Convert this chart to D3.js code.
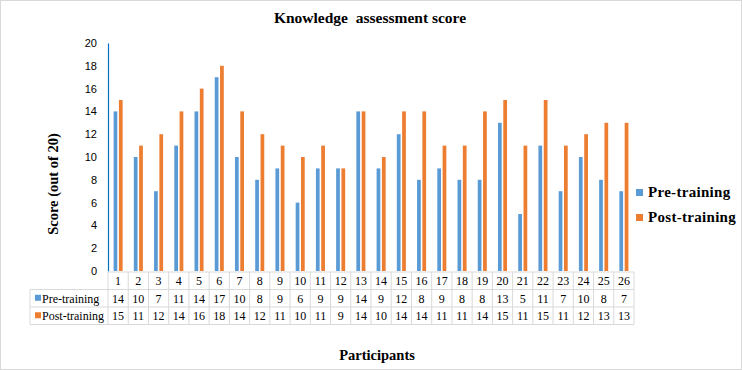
<!DOCTYPE html>
<html>
<head>
<meta charset="utf-8">
<script src="https://cdn.jsdelivr.net/npm/d3@7"></script>
<style>
  body { margin: 0; background: #fff; }
  svg text { fill: #000; }
</style>
</head>
<body>
<div id="chart"></div>
<script>
const participants = d3.range(1, 27).map(String)
const preTraining = [14, 10, 7, 11, 14, 17, 10, 8, 9, 6, 9, 9, 14, 9, 12, 8, 9, 8, 8, 13, 5, 11, 7, 10, 8, 7]
const postTraining = [15, 11, 12, 14, 16, 18, 14, 12, 11, 10, 11, 9, 14, 10, 14, 14, 11, 11, 14, 15, 11, 15, 11, 12, 13, 13]
const seriesNames = ['Pre-training', 'Post-training']
const colors = ['#5B9BD5', '#ED7D31']
const yTicks = [0, 2, 4, 6, 8, 10, 12, 14, 16, 18, 20]

const width = 742
const height = 370
const serif = '"Liberation Serif", "Times New Roman", serif'
const sans = '"Liberation Sans", Arial, sans-serif'

const plot = { left: 108, right: 634, top: 43, bottom: 271 }
const rowH = 17.5

const svg = d3.select('#chart')
  .append('svg')
  .attr('width', width)
  .attr('height', height)

// outer frame
svg.append('rect')
  .attr('x', 0.5).attr('y', 0.5)
  .attr('width', width - 1).attr('height', height - 1)
  .attr('fill', 'none').attr('stroke', '#d9d9d9')

const x = d3.scaleBand().domain(participants).range([plot.left, plot.right])
const xInner = d3.scaleBand().domain(seriesNames).range([0, x.bandwidth()]).paddingInner(0.3).paddingOuter(1.05)
const y = d3.scaleLinear().domain([0, 20]).range([plot.bottom, plot.top])

const series = [preTraining, postTraining]

// bars
series.forEach((values, si) => {
  svg.append('g')
    .selectAll('rect')
    .data(values)
    .join('rect')
    .attr('x', (d, i) => x(participants[i]) + xInner(seriesNames[si]))
    .attr('y', d => y(d))
    .attr('width', xInner.bandwidth())
    .attr('height', d => y(0) - y(d))
    .attr('fill', colors[si])
})

// y axis
const yAxis = svg.append('g')
  .attr('transform', `translate(${plot.left},0)`)
  .call(d3.axisLeft(y).tickValues(yTicks).tickSize(0).tickPadding(11))
yAxis.select('.domain').attr('stroke', '#0070C0').attr('stroke-width', 1.2)
yAxis.selectAll('text')
  .attr('font-family', sans)
  .attr('font-size', 11)
  .attr('fill', '#333')

// data table
const tableLeft = 30
const tableTop = plot.bottom + 1
const grid = svg.append('g').attr('stroke', '#d9d9d9').attr('stroke-width', 1).attr('fill', 'none')

// horizontal lines
grid.append('line')
  .attr('x1', plot.left).attr('x2', plot.right)
  .attr('y1', tableTop).attr('y2', tableTop)
d3.range(1, 4).forEach(r => {
  grid.append('line')
    .attr('x1', tableLeft).attr('x2', plot.right)
    .attr('y1', tableTop + r * rowH).attr('y2', tableTop + r * rowH)
})
// vertical lines
participants.concat(['end']).forEach(p => {
  const xx = p === 'end' ? plot.right : x(p)
  grid.append('line')
    .attr('x1', xx).attr('x2', xx)
    .attr('y1', tableTop).attr('y2', tableTop + 3 * rowH)
})
grid.append('line')
  .attr('x1', tableLeft).attr('x2', tableLeft)
  .attr('y1', tableTop + rowH).attr('y2', tableTop + 3 * rowH)

const tableText = svg.append('g')
  .attr('font-family', serif)
  .attr('font-size', 12)
  .attr('text-anchor', 'middle')

tableText.selectAll('text.cat')
  .data(participants)
  .join('text')
  .attr('class', 'cat')
  .attr('x', d => x(d) + x.bandwidth() / 2)
  .attr('y', tableTop + rowH / 2 + 4.5)
  .text(d => d)

series.forEach((values, si) => {
  const rowY = tableTop + (si + 1) * rowH + rowH / 2 + 4.5
  tableText.selectAll(`text.v${si}`)
    .data(values)
    .join('text')
    .attr('class', `v${si}`)
    .attr('x', (d, i) => x(participants[i]) + x.bandwidth() / 2)
    .attr('y', rowY)
    .text(d => d)

  svg.append('rect')
    .attr('x', tableLeft + 5).attr('y', rowY - 8)
    .attr('width', 6).attr('height', 6)
    .attr('fill', colors[si])
  svg.append('text')
    .attr('x', tableLeft + 12).attr('y', rowY)
    .attr('font-family', serif)
    .attr('font-size', 12)
    .text(seriesNames[si])
})

// title
svg.append('text')
  .attr('x', 370).attr('y', 23)
  .attr('text-anchor', 'middle')
  .attr('font-family', serif)
  .attr('font-size', 15.5)
  .attr('font-weight', 'bold')
  .attr('xml:space', 'preserve')
  .text('Knowledge  assessment score')

// axis titles
svg.append('text')
  .attr('transform', 'translate(58,184) rotate(-90)')
  .attr('text-anchor', 'middle')
  .attr('font-family', serif)
  .attr('font-size', 14.5)
  .attr('font-weight', 'bold')
  .text('Score (out of 20)')

svg.append('text')
  .attr('x', 377).attr('y', 360)
  .attr('text-anchor', 'middle')
  .attr('font-family', serif)
  .attr('font-size', 14.5)
  .attr('font-weight', 'bold')
  .text('Participants')

// legend
const legend = svg.append('g').attr('transform', 'translate(636,189)')
seriesNames.forEach((name, i) => {
  const g = legend.append('g').attr('transform', `translate(0,${i * 25})`)
  g.append('rect').attr('width', 7).attr('height', 7).attr('fill', colors[i])
  g.append('text')
    .attr('x', 12).attr('y', 8)
    .attr('font-family', serif)
    .attr('font-size', 15)
    .attr('font-weight', 'bold')
    .attr('letter-spacing', 0.3)
    .text(name)
})
</script>
</body>
</html>
